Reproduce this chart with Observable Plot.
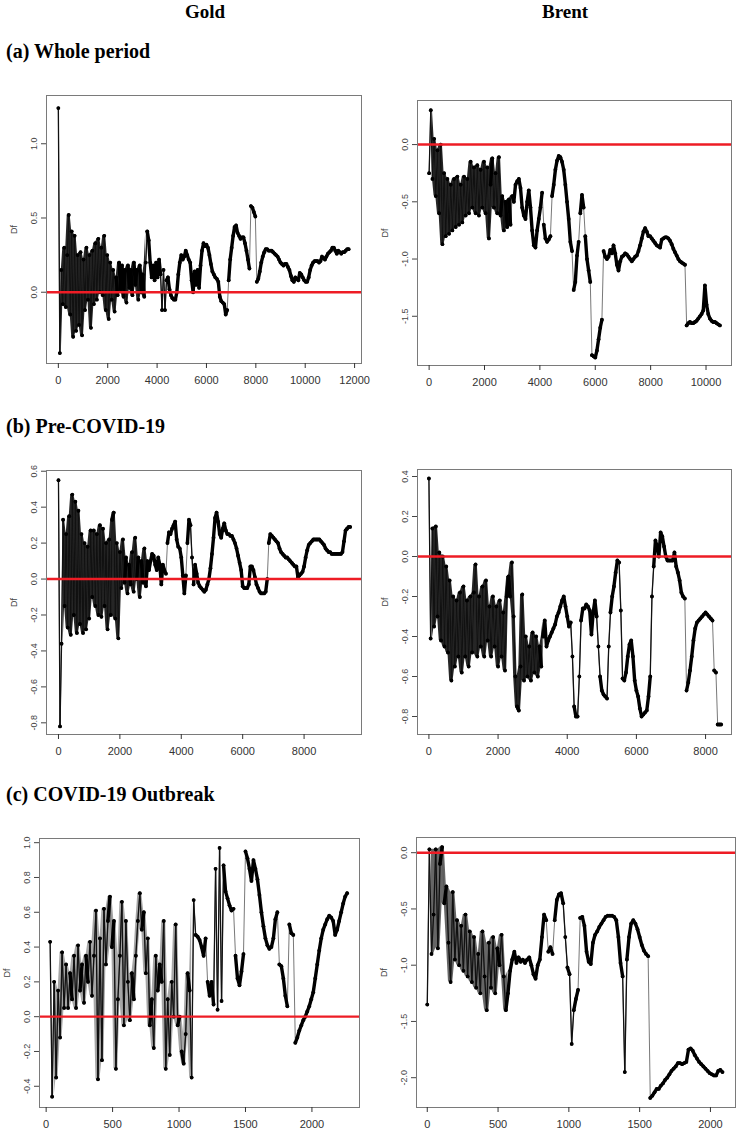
<!DOCTYPE html>
<html>
<head>
<meta charset="utf-8">
<script src="https://cdn.jsdelivr.net/npm/d3@7"></script>
<script src="https://cdn.jsdelivr.net/npm/@observablehq/plot@0.6"></script>
<style>
  body { margin: 0; background: #fff; }
  #page { position: relative; width: 737px; height: 1131px; overflow: hidden; background: #fff; }
  .panel { position: absolute; }
  #titles { position: absolute; left: 0; top: 0; pointer-events: none; }
</style>
</head>
<body>
<div id="page"></div>
<script>
// ---------------- text ----------------
const columnTitles = ["Gold", "Brent"];
const periodTitles = ["(a) Whole period", "(b) Pre-COVID-19", "(c) COVID-19 Outbreak"];
const yAxisLabel = "Df";

// ---------------- (a) Whole period ----------------
const goldWholeX0 = 0, goldWholeStep = 60;
const goldWholeY = [
  1.24, -0.41, 0.15, -0.08, 0.30, -0.10, 0.25, 0.52, -0.15, 0.41,
  -0.30, 0.38, -0.26, 0.25, -0.22, 0.27, -0.29, 0.22, -0.12, 0.30,
  -0.05, 0.25, -0.24, 0.28, -0.08, 0.33, -0.05, 0.36, 0.00, 0.30,
  -0.02, 0.38, -0.12, 0.25, -0.18, 0.20, -0.05, 0.15, -0.13, 0.10,
  -0.02, 0.20, 0.02, 0.18, -0.03, 0.15, -0.07, 0.18, 0.03, 0.15,
  -0.02, 0.20, 0.05, 0.15, -0.05, 0.18, 0.00, 0.12, -0.03, 0.20,
  0.41, 0.35, 0.20, 0.10, 0.18, 0.08, 0.20, 0.10, 0.22, 0.12,
  -0.12, 0.15, -0.12, 0.08, 0.10, 0.02, -0.02, -0.04, -0.05, -0.05,
  0.00, 0.12, 0.20, 0.25, 0.22, 0.24, 0.28, 0.25, 0.22, 0.20,
  0.08, 0.00, 0.14, 0.05, 0.15, 0.03, 0.18, 0.28, 0.33, 0.31,
  0.32, 0.30, 0.25, 0.19, 0.14, 0.12, 0.10, 0.09, 0.07, -0.03,
  -0.06, -0.07, -0.08, -0.15, -0.12, 0.08, 0.22, 0.30, 0.38, 0.44,
  0.45, 0.40, 0.38, 0.36, 0.37, 0.37, 0.33, 0.28, 0.22, 0.16,
  0.58, 0.57, 0.54, 0.51, 0.07, 0.09, 0.14, 0.20, 0.24, 0.27,
  0.29, 0.29, 0.28, 0.28, 0.28, 0.27, 0.26, 0.25, 0.24, 0.22,
  0.20, 0.19, 0.18, 0.19, 0.19, 0.17, 0.15, 0.11, 0.08, 0.07,
  0.10, 0.09, 0.08, 0.13, 0.12, 0.10, 0.08, 0.07, 0.07, 0.10,
  0.15, 0.18, 0.20, 0.21, 0.21, 0.21, 0.20, 0.21, 0.24, 0.23,
  0.22, 0.24, 0.26, 0.27, 0.28, 0.30, 0.30, 0.28, 0.26, 0.28,
  0.27, 0.26, 0.27, 0.27, 0.28, 0.29, 0.29
];
const goldWholeXTicks = [0, 2000, 4000, 6000, 8000, 10000, 12000];
const goldWholeYTicks = [0.0, 0.5, 1.0];

const brentWholeX0 = 0, brentWholeStep = 60;
const brentWholeY = [
  -0.25, 0.30, -0.30, 0.05, -0.45, -0.05, -0.60, 0.00, -0.87, -0.25,
  -0.80, -0.30, -0.78, -0.35, -0.75, -0.30, -0.72, -0.28, -0.70, -0.35,
  -0.68, -0.28, -0.62, -0.30, -0.60, -0.15, -0.55, -0.20, -0.60, -0.18,
  -0.62, -0.22, -0.55, -0.15, -0.60, -0.20, -0.82, -0.35, -0.12, -0.55,
  -0.25, -0.60, -0.11, -0.62, -0.45, -0.75, -0.50, -0.72, -0.48, -0.70,
  -0.45, -0.50, -0.35, -0.32, -0.30, -0.38, -0.55, -0.62, -0.65, -0.50,
  -0.40, -0.55, -0.75, -0.88, -0.90, -0.75, -0.65, -0.55, -0.42, -0.70,
  -0.82, -0.85, -0.83, -0.80, -0.45, -0.35, -0.22, -0.14, -0.10, -0.11,
  -0.15, -0.22, -0.35, -0.50, -0.65, -0.85, -0.93, -1.27, -1.20, -0.97,
  -0.85, -0.60, -0.44, -0.55, -0.80, -1.00, -1.10, -1.20, -1.84, -1.85,
  -1.86, -1.80, -1.70, -1.60, -1.53, -0.93, -0.98, -1.00, -0.98, -0.92,
  -0.95, -0.88, -0.95, -1.05, -1.10, -1.02, -0.98, -0.97, -0.95, -0.96,
  -0.98, -1.00, -1.02, -1.00, -0.98, -0.97, -0.93, -0.88, -0.82, -0.76,
  -0.73, -0.76, -0.80, -0.80, -0.82, -0.84, -0.86, -0.88, -0.89, -0.90,
  -0.83, -0.82, -0.81, -0.81, -0.82, -0.84, -0.87, -0.91, -0.94, -0.97,
  -1.00, -1.02, -1.03, -1.04, -1.05, -1.58, -1.56, -1.55, -1.56, -1.56,
  -1.55, -1.54, -1.52, -1.50, -1.48, -1.45, -1.23, -1.40, -1.48, -1.52,
  -1.54, -1.55, -1.55, -1.56, -1.57, -1.58
];
const brentWholeXTicks = [0, 2000, 4000, 6000, 8000, 10000];
const brentWholeYTicks = [0.0, -0.5, -1.0, -1.5];

// ---------------- (b) Pre-COVID-19 ----------------
const goldPreX0 = 0, goldPreStep = 50;
const goldPreY = [
  0.55, -0.82, -0.36, 0.33, -0.15, 0.25, -0.27, 0.35, -0.31, 0.47,
  -0.20, 0.43, -0.30, 0.38, -0.25, 0.25, -0.30, 0.20, -0.28, 0.18,
  -0.22, 0.27, -0.10, 0.27, -0.15, 0.25, -0.20, 0.30, -0.21, 0.28,
  -0.15, 0.20, -0.28, 0.22, -0.20, 0.33, 0.37, -0.22, 0.20, -0.33,
  0.15, -0.05, 0.22, -0.02, 0.12, -0.08, 0.08, -0.03, 0.15, -0.07,
  0.23, 0.00, 0.12, -0.10, 0.10, -0.02, 0.17, -0.04, 0.10, 0.05,
  0.10, 0.14, 0.13, 0.08, 0.05, 0.12, 0.08, -0.03, 0.08, 0.05,
  0.03, 0.20, 0.26, 0.25, 0.28, 0.30, 0.32, 0.22, 0.18, 0.17,
  0.12, 0.02, -0.08, 0.02, 0.20, 0.33, 0.30, 0.12, -0.03, 0.08,
  0.03, -0.02, -0.04, -0.05, -0.06, -0.07, -0.06, -0.03, 0.00, 0.06,
  0.14, 0.23, 0.34, 0.37, 0.32, 0.25, 0.23, 0.28, 0.31, 0.27,
  0.25, 0.25, 0.24, 0.24, 0.22, 0.20, 0.17, 0.13, 0.09, 0.05,
  -0.04, -0.05, -0.05, -0.05, -0.03, 0.07, 0.07, 0.05, 0.01, -0.03,
  -0.05, -0.07, -0.08, -0.08, -0.08, -0.07, 0.00, 0.20, 0.25, 0.24,
  0.23, 0.22, 0.21, 0.20, 0.17, 0.15, 0.14, 0.13, 0.12, 0.12,
  0.11, 0.10, 0.09, 0.08, 0.07, 0.07, 0.01, 0.02, 0.03, 0.04,
  0.07, 0.12, 0.16, 0.19, 0.20, 0.21, 0.22, 0.22, 0.22, 0.22,
  0.22, 0.21, 0.20, 0.19, 0.17, 0.16, 0.15, 0.15, 0.14, 0.14,
  0.14, 0.14, 0.14, 0.14, 0.14, 0.15, 0.21, 0.27, 0.28, 0.29,
  0.29
];
const goldPreXTicks = [0, 2000, 4000, 6000, 8000];
const goldPreYTicks = [-0.8, -0.6, -0.4, -0.2, 0.0, 0.2, 0.4, 0.6];

const brentPreX0 = 0, brentPreStep = 50;
const brentPreY = [
  0.39, -0.41, 0.14, -0.35, 0.15, -0.30, 0.02, -0.42, 0.00, -0.45,
  -0.05, -0.48, -0.12, -0.62, -0.20, -0.55, -0.22, -0.50, -0.18, -0.58,
  -0.15, -0.50, -0.22, -0.55, -0.20, -0.48, -0.18, -0.04, -0.50, -0.20,
  -0.45, -0.15, -0.50, -0.12, -0.42, -0.25, -0.50, -0.20, -0.45, -0.25,
  -0.55, -0.22, -0.50, -0.28, -0.57, -0.20, -0.10, -0.20, -0.03, -0.30,
  -0.60, -0.75, -0.77, -0.55, -0.19, -0.62, -0.40, -0.60, -0.45, -0.62,
  -0.38, -0.58, -0.40, -0.60, -0.45, -0.55, -0.40, -0.32, -0.45, -0.42,
  -0.40, -0.38, -0.36, -0.34, -0.30, -0.28, -0.25, -0.22, -0.20, -0.25,
  -0.30, -0.35, -0.33, -0.50, -0.75, -0.80, -0.80, -0.60, -0.32, -0.26,
  -0.26, -0.24, -0.25, -0.27, -0.39, -0.28, -0.22, -0.30, -0.45, -0.60,
  -0.67, -0.69, -0.70, -0.71, -0.45, -0.28, -0.20, -0.15, -0.08, -0.02,
  -0.03, -0.27, -0.61, -0.62, -0.58, -0.50, -0.44, -0.42, -0.50, -0.62,
  -0.67, -0.70, -0.76, -0.80, -0.79, -0.78, -0.77, -0.70, -0.60, -0.20,
  -0.05, 0.08, 0.05, 0.00, 0.12, 0.10, 0.05, 0.00, -0.02, -0.02,
  -0.02, -0.02, 0.02, -0.05, -0.08, -0.12, -0.18, -0.20, -0.21, -0.67,
  -0.63, -0.57, -0.50, -0.42, -0.36, -0.33, -0.32, -0.31, -0.30, -0.29,
  -0.28, -0.29, -0.30, -0.31, -0.32, -0.57, -0.58, -0.84, -0.84, -0.84
];
const brentPreXTicks = [0, 2000, 4000, 6000, 8000];
const brentPreYTicks = [-0.8, -0.6, -0.4, -0.2, 0.0, 0.2, 0.4];

// ---------------- (c) COVID-19 Outbreak ----------------
const goldCovidX0 = 30, goldCovidStep = 15;
const goldCovidY = [
  0.43, -0.46, 0.20, -0.35, 0.15, -0.12, 0.37, 0.05, 0.30, 0.05,
  0.25, 0.10, 0.35, 0.05, 0.41, 0.15, 0.30, 0.08, 0.35, 0.20,
  0.43, 0.12, 0.35, 0.61, -0.36, 0.45, -0.25, 0.62, 0.30, 0.55,
  0.69, 0.40, 0.55, -0.30, 0.10, 0.35, 0.66, -0.05, 0.55, 0.20,
  -0.02, 0.25, 0.10, 0.35, 0.55, 0.71, 0.50, 0.60, 0.25, 0.45,
  -0.05, 0.10, -0.18, 0.35, 0.15, 0.30, 0.20, 0.55, -0.30, 0.10,
  -0.22, 0.20, 0.00, 0.53, -0.05, 0.00, -0.20, -0.27, -0.10, 0.25,
  0.15, -0.35, 0.67, 0.47, 0.46, 0.44, 0.40, 0.35, 0.45, 0.20,
  0.12, 0.20, 0.07, 0.85, 0.04, 0.97, 0.09, 0.87, 0.72, 0.68,
  0.64, 0.61, 0.62, 0.35, 0.22, 0.18, 0.26, 0.36, 0.95, 0.91,
  0.85, 0.78, 0.90, 0.85, 0.79, 0.70, 0.60, 0.52, 0.45, 0.41,
  0.39, 0.40, 0.45, 0.56, 0.60, 0.30, 0.29, 0.22, 0.12, 0.06,
  0.53, 0.48, 0.47, -0.15, -0.12, -0.08, -0.05, -0.02, 0.00, 0.03,
  0.06, 0.10, 0.14, 0.22, 0.30, 0.38, 0.45, 0.50, 0.53, 0.56,
  0.58, 0.57, 0.55, 0.47, 0.50, 0.55, 0.60, 0.65, 0.69, 0.71
];
const goldCovidXTicks = [0, 500, 1000, 1500, 2000];
const goldCovidYTicks = [-0.4, -0.2, 0.0, 0.2, 0.4, 0.6, 0.8, 1.0];

const brentCovidX0 = 0, brentCovidStep = 15;
const brentCovidY = [
  -1.35, 0.03, -0.90, -0.55, 0.03, -0.85, -0.10, 0.05, -0.45, -0.30,
  -0.80, -1.15, -0.35, -0.95, -0.60, -1.00, -0.65, -1.05, -0.55, -1.10,
  -0.70, -1.15, -0.75, -1.20, -0.90, -1.25, -0.70, -1.10, -1.40, -0.80,
  -1.20, -0.75, -1.25, -0.85, -1.00, -0.73, -1.10, -1.40, -1.25, -1.05,
  -0.95, -0.88, -0.98, -0.93, -0.97, -0.95, -0.98, -0.95, -0.93, -1.00,
  -1.08, -1.12, -1.00, -0.95, -0.75, -0.55, -0.60, -0.88, -0.84, -0.90,
  -0.60, -0.42, -0.37, -0.36, -0.45, -0.75, -1.02, -1.08, -1.70, -1.40,
  -1.30, -1.22, -0.58, -0.57, -0.65, -0.88, -0.97, -0.99, -0.80, -0.73,
  -0.70, -0.66, -0.63, -0.60, -0.57, -0.56, -0.56, -0.56, -0.57, -0.60,
  -0.75, -0.98, -1.10, -1.95, -0.95, -0.75, -0.63, -0.60, -0.63, -0.68,
  -0.75, -0.82, -0.87, -0.90, -0.92, -2.18, -2.16, -2.13, -2.10, -2.10,
  -2.07, -2.05, -2.02, -2.00, -1.97, -1.94, -1.92, -1.90, -1.87, -1.87,
  -1.88, -1.87, -1.86, -1.75, -1.74, -1.76, -1.80, -1.83, -1.86, -1.88,
  -1.90, -1.92, -1.94, -1.96, -1.97, -1.98, -1.98, -1.94, -1.93, -1.95
];
const brentCovidXTicks = [0, 500, 1000, 1500, 2000];
const brentCovidYTicks = [0.0, -0.5, -1.0, -1.5, -2.0];

// ---------------- layout (positions / scale settings / shading of dense runs) ----------------
const panels = [
  {ys: goldWholeY, x0: goldWholeX0, step: goldWholeStep, xTicks: goldWholeXTicks, yTicks: goldWholeYTicks,
   left: 0, top: 80, width: 368, height: 310, mt: 15, mr: 7, mb: 27, ml: 46,
   xDomain: [-480, 12280], yDomain: [-0.48, 1.325], band: [120, 3540], bandOpacity: 0.85},
  {ys: brentWholeY, x0: brentWholeX0, step: brentWholeStep, xTicks: brentWholeXTicks, yTicks: brentWholeYTicks,
   left: 368, top: 80, width: 369, height: 310, mt: 20, mr: 6, mb: 25, ml: 49,
   xDomain: [-420, 10920], yDomain: [-1.93, 0.385], band: [120, 3000], bandOpacity: 0.85},
  {ys: goldPreY, x0: goldPreX0, step: goldPreStep, xTicks: goldPreXTicks, yTicks: goldPreYTicks,
   left: 0, top: 450, width: 368, height: 310, mt: 20, mr: 7, mb: 26, ml: 46,
   xDomain: [-390, 9870], yDomain: [-0.865, 0.604], band: [150, 2950], bandOpacity: 0.85},
  {ys: brentPreY, x0: brentPreX0, step: brentPreStep, xTicks: brentPreXTicks, yTicks: brentPreYTicks,
   left: 368, top: 450, width: 369, height: 310, mt: 19, mr: 6, mb: 26, ml: 49,
   xDomain: [-330, 8750], yDomain: [-0.89, 0.435], band: [100, 3300], bandOpacity: 0.85},
  {ys: goldCovidY, x0: goldCovidX0, step: goldCovidStep, xTicks: goldCovidXTicks, yTicks: goldCovidYTicks,
   left: 0, top: 820, width: 368, height: 311, mt: 18, mr: 9, mb: 24, ml: 39,
   xDomain: [-50, 2358], yDomain: [-0.522, 1.024], band: [60, 1095], bandOpacity: 0.35},
  {ys: brentCovidY, x0: brentCovidX0, step: brentCovidStep, xTicks: brentCovidXTicks, yTicks: brentCovidYTicks,
   left: 368, top: 820, width: 369, height: 311, mt: 17, mr: 2, mb: 24, ml: 48,
   xDomain: [-76, 2177], yDomain: [-2.265, 0.135], band: [30, 570], bandOpacity: 0.6}
];

const page = document.getElementById("page");

function drawPanel(p) {
  const rows = p.ys.map((v, i) => ({x: p.x0 + i * p.step, y: v}));
  const n = rows.length;
  const thr = 0.1 * (p.yDomain[1] - p.yDomain[0]);
  const big = rows.slice(0, -1).map((r, i) => Math.abs(rows[i + 1].y - r.y) > thr);
  // thick trace where consecutive values are close (dense smooth runs)
  const thick = [];
  rows.forEach((r, i) => {
    thick.push(r);
    if (i < n - 1 && big[i]) thick.push({x: NaN, y: NaN});
  });
  // heavier strokes for runs of large back-and-forth moves (noisy bands)
  const noisy = [];
  big.forEach((b, i) => {
    if (b && ((i > 0 && big[i - 1]) || (i < big.length - 1 && big[i + 1]))) {
      noisy.push({x: rows[i].x, y: rows[i].y, z: i}, {x: rows[i + 1].x, y: rows[i + 1].y, z: i});
    }
  });
  // local range of the oscillating runs (the densely overplotted band)
  const band = rows.map((r, i) => {
    if (r.x < p.band[0] || r.x > p.band[1]) return {x: r.x, y1: NaN, y2: NaN};
    const w = [rows[i - 1], r, rows[i + 1]].filter(Boolean).map(d => d.y);
    return {x: r.x, y1: Math.min(...w), y2: Math.max(...w)};
  });
  const chart = Plot.plot({
    width: p.width,
    height: p.height,
    marginTop: p.mt, marginRight: p.mr, marginBottom: p.mb, marginLeft: p.ml,
    style: {fontFamily: "'Liberation Sans', Arial, sans-serif", background: "transparent", overflow: "visible"},
    x: {domain: p.xDomain, label: null},
    y: {domain: p.yDomain, label: null},
    marks: [
      Plot.areaY(band, {x: "x", y1: "y1", y2: "y2", fill: "#000", fillOpacity: p.bandOpacity}),
      Plot.line(rows, {x: "x", y: "y", stroke: "#555", strokeWidth: 0.8}),
      Plot.line(noisy, {x: "x", y: "y", z: "z", stroke: "#111", strokeWidth: 1.3, strokeLinecap: "round"}),
      Plot.line(thick, {x: "x", y: "y", stroke: "#000", strokeWidth: 3.4, strokeLinecap: "round", strokeLinejoin: "round"}),
      Plot.dot(rows, {x: "x", y: "y", r: 1.9, fill: "#000", stroke: null}),
      Plot.ruleY([0], {stroke: "#ee1c25", strokeWidth: 2.4}),
      Plot.frame({stroke: "#7a7a7a", strokeWidth: 1}),
      Plot.axisX({ticks: p.xTicks, tickFormat: d => String(d), tickSize: 5, tickPadding: 8,
                  fontSize: 11, color: "#333", label: null}),
      Plot.axisY({ticks: p.yTicks, tickFormat: d => d.toFixed(1), tickSize: 5, tickPadding: 5,
                  tickRotate: -90, fontSize: 9, color: "#444",
                  label: yAxisLabel, labelAnchor: "center", labelArrow: "none", labelOffset: 36})
    ]
  });
  const div = document.createElement("div");
  div.className = "panel";
  div.style.left = p.left + "px";
  div.style.top = p.top + "px";
  div.appendChild(chart);
  page.appendChild(div);
}
panels.forEach(drawPanel);

// ---------------- titles ----------------
const svg = d3.select(page).append("svg")
  .attr("id", "titles").attr("width", 737).attr("height", 1131);
const serif = "'Liberation Serif', 'Times New Roman', serif";
const colX = [205, 565];
columnTitles.forEach((t, i) => {
  svg.append("text").attr("x", colX[i]).attr("y", 18).attr("text-anchor", "middle")
    .attr("font-family", serif).attr("font-weight", "bold").attr("font-size", 19).text(t);
});
const rowY = [58, 433, 801];
periodTitles.forEach((t, i) => {
  svg.append("text").attr("x", 6).attr("y", rowY[i])
    .attr("font-family", serif).attr("font-weight", "bold").attr("font-size", 20).text(t);
});
</script>
</body>
</html>
